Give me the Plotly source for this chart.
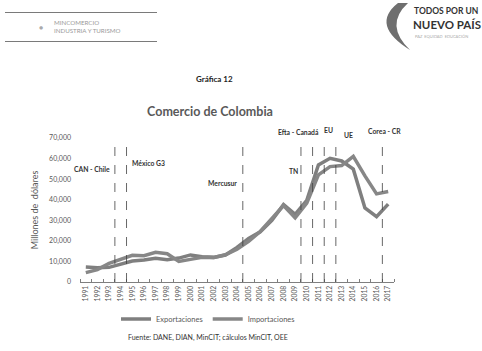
import plotly.graph_objects as go

# Colombian trade, millions of US dollars
years = list(range(1991, 2018))
exportaciones = [7232, 6917, 7116, 8538, 10201, 10648, 11549, 10866, 11617, 13158,
                 12330, 11975, 13129, 16788, 21190, 24391, 29991, 37626, 32846, 39713,
                 56915, 60125, 58824, 54857, 36018, 31768, 37881]
importaciones = [4548, 6029, 9086, 11040, 12952, 12792, 14409, 13768, 9991, 10998,
                 11997, 11897, 13258, 15878, 19799, 24534, 30816, 37155, 31188, 38406,
                 52126, 56102, 56620, 61088, 51598, 42849, 43972]

# Trade agreements: label and the year boundary where each takes effect
acuerdos = ["CAN - Chile", "México G3", "Mercusur", "Efta - Canadá", "TN", "EU", "UE", "Corea - CR"]
acuerdo_x = [1993.5, 1994.5, 2004.5, 2009.5, 2010.5, 2011.5, 2012.5, 2016.5]

FONT = "Lato, 'Open Sans', sans-serif"
GREY = "#595959"

W, H = 482, 351
ML, MR, MT, MB = 80, 88, 138, 69
PW, PH = W - ML - MR, H - MT - MB


def px(x):
    """page pixel x -> paper x"""
    return (x - ML) / PW


def py(y):
    """page pixel y -> paper y"""
    return (H - MB - y) / PH


fig = go.Figure()
fig.add_trace(go.Scatter(x=years, y=exportaciones, name="Exportaciones", mode="lines",
                         line=dict(color="#7f7f7f", width=3.5)))
fig.add_trace(go.Scatter(x=years, y=importaciones, name="Importaciones", mode="lines",
                         line=dict(color="#878787", width=3.5)))

# dashed markers for each agreement
for xv in acuerdo_x:
    fig.add_shape(type="line", xref="x", yref="paper", x0=xv, x1=xv, y0=0, y1=1,
                  line=dict(color="#404040", width=0.8, dash="dash"))

# agreement labels: (x in data units, y in page px, anchor)
label_pos = {
    "CAN - Chile": (1993.25, 169, "right"),
    "México G3": (1994.8, 163, "left"),
    "Mercusur": (2004.17, 183, "right"),
    "Efta - Canadá": (2011.2, 132, "right"),
    "TN": (2009.4, 171, "right"),
    "EU": (2011.83, 130, "center"),
    "UE": (2013.55, 135, "center"),
    "Corea - CR": (2016.7, 131, "center"),
}
for name in acuerdos:
    xv, yp, anc = label_pos[name]
    fig.add_annotation(x=xv, y=py(yp), xref="x", yref="paper", text="<b>%s</b>" % name,
                       showarrow=False, xanchor=anc, yanchor="middle",
                       font=dict(family=FONT, size=6.8, color="#333333"))


def note(x, y, text, size, color, anchor="center", align="center"):
    fig.add_annotation(xref="paper", yref="paper", x=px(x), y=py(y), text=text,
                       showarrow=False, xanchor=anchor, yanchor="middle", align=align,
                       font=dict(family=FONT, size=size, color=color))


# header: ministry banner on the left, framed by a thin rule above and below
fig.add_annotation(xref="paper", yref="paper", x=px(81), y=py(26.5), text=" ",
                   showarrow=False, xanchor="center", yanchor="middle",
                   width=150, height=26, borderpad=0, borderwidth=0,
                   bgcolor="rgba(0,0,0,0)")
for yl in (12.5, 41):
    fig.add_annotation(xref="paper", yref="paper", x=px(81), y=py(yl), text="",
                       showarrow=False, xanchor="center", yanchor="middle",
                       width=152, height=1, borderpad=0, borderwidth=0,
                       bgcolor="#7a7a7a", font=dict(size=1))
note(52, 26.5, "MINCOMERCIO<br>INDUSTRIA Y TURISMO", 6.2, "#9a9a9a", anchor="left", align="left")
note(41, 26.5, "●", 7, "#aaaaaa")

# header: government slogan on the right
fig.add_shape(type="path", xref="paper", yref="paper",
              path="M %f %f Q %f %f %f %f Q %f %f %f %f Z" % (
                  px(398), py(3), px(370), py(25), px(410), py(50),
                  px(384), py(25), px(408), py(3)),
              fillcolor="#6f6f6f", line=dict(width=0))
note(412, 11, "<b>TODOS POR UN</b>", 8.5, "#333333", anchor="left")
note(411, 25, "<b>NUEVO PAÍS</b>", 11.5, "#333333", anchor="left")
note(413, 36, "PAZ  EQUIDAD  EDUCACIÓN", 4, "#aaaaaa", anchor="left")

# figure number, source line
note(214, 79, "<b>Gráfica 12</b>", 8, "#222222")
note(208, 337, "Fuente: DANE, DIAN, MinCIT; cálculos MinCIT, OEE", 7, "#333333")

fig.update_layout(
    width=W, height=H,
    margin=dict(l=ML, r=MR, t=MT, b=MB),
    paper_bgcolor="white", plot_bgcolor="white",
    title=dict(text="<b>Comercio de Colombia</b>", x=210 / W, xanchor="center",
               y=1 - 112 / H, yanchor="middle", font=dict(family=FONT, size=12.5, color=GREY)),
    showlegend=True,
    legend=dict(orientation="h", x=px(208), xanchor="center", y=py(319), yanchor="middle",
                font=dict(family=FONT, size=7.5, color=GREY), itemwidth=30,
                tracegroupgap=0),
    xaxis=dict(range=[1990.5, 2017.5], tickvals=years, ticktext=[str(y) for y in years],
               tickangle=-90, tickfont=dict(family=FONT, size=6.8, color=GREY),
               showgrid=False, zeroline=False, showline=True, linecolor="#7f7f7f",
               linewidth=1, ticks="",
               minor=dict(tick0=1990.5, dtick=1, ticks="inside", ticklen=3,
                          tickcolor="#7f7f7f", showgrid=False)),
    yaxis=dict(range=[0, 70000], tickvals=list(range(0, 70001, 10000)), tickformat=",d",
               tickfont=dict(family=FONT, size=7, color=GREY), showgrid=False,
               zeroline=False, showline=False, ticks="", ticklabelstandoff=8,
               title=dict(text="Millones de  dólares", standoff=8,
                          font=dict(family=FONT, size=9, color=GREY))),
)

fig.write_html("out.html")
